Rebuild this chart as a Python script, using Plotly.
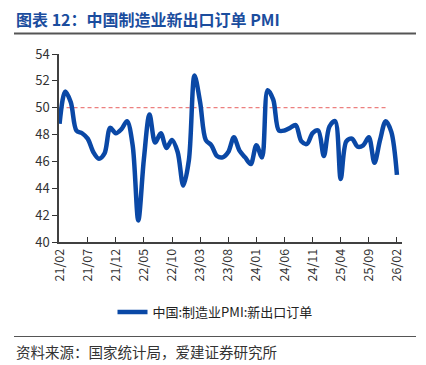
import plotly.graph_objects as go
import pandas as pd

months = [d.strftime("%y/%m") for d in pd.date_range("2021-02-01", "2026-02-01", freq="MS")]

export_orders = [
    48.8, 51.2, 50.4, 48.3, 48.1, 47.7, 46.7, 46.2, 46.6, 48.5, 48.1,   # 2021 Feb-Dec
    48.4, 49.0, 47.2, 41.6, 46.2, 49.5, 47.4, 48.1, 47.0, 47.6, 46.7, 44.2,  # 2022
    46.1, 52.4, 50.4, 47.6, 47.2, 46.4, 46.3, 46.7, 47.8, 46.8, 46.3, 45.8,  # 2023
    47.2, 46.3, 51.3, 50.6, 48.3, 48.3, 48.5, 48.7, 47.5, 47.3, 48.1, 48.3,  # 2024
    46.4, 48.6, 49.0, 44.7, 47.5, 47.7, 47.1, 47.2, 47.8, 45.9, 47.6, 49.0,  # 2025
    48.2, 45.0,  # 2026
]

threshold_months = months[:59]
threshold = [50] * len(threshold_months)

tick_labels = months[::5]

series_name = "中国:制造业PMI:新出口订单"
title_text = "图表 12：中国制造业新出口订单 PMI"
source_text = "资料来源：国家统计局，爱建证券研究所"

W, H = 426, 365
ml, mr, mt, mb = 59, 24, 54, 123
pw = W - ml - mr
ph = H - mt - mb

def px_x(x):
    return (x - ml) / pw

def px_y(y):
    return (H - mb - y) / ph

font_cn = "Noto Sans CJK SC, Microsoft YaHei, sans-serif"

fig = go.Figure()
fig.add_trace(go.Scatter(
    x=threshold_months, y=threshold, mode="lines",
    line=dict(color="#E8605F", width=1, dash="4px,3px"),
    showlegend=False, hoverinfo="skip",
))
fig.add_trace(go.Scatter(
    x=months, y=export_orders, mode="lines", name=series_name,
    line=dict(color="#0A48A6", width=4.5, shape="spline", smoothing=0.9),
))

fig.update_layout(
    width=W, height=H,
    margin=dict(l=ml, r=mr, t=mt, b=mb),
    paper_bgcolor="white", plot_bgcolor="white",
    font=dict(family=font_cn, size=12, color="#333333"),
    showlegend=True,
    legend=dict(
        orientation="h", x=px_x(215), xanchor="center", y=px_y(312), yanchor="middle",
        font=dict(size=13, color="#222222"), bgcolor="rgba(0,0,0,0)",
    ),
    xaxis=dict(
        type="category", categoryorder="array", categoryarray=months,
        range=[-0.1, 60.9],
        tickmode="array", tickvals=tick_labels, ticktext=tick_labels,
        tickangle=-90, ticks="inside", ticklen=5, tickcolor="#333333",
        showline=True, linecolor="#404040", linewidth=1.5,
        showgrid=False, zeroline=False,
        tickfont=dict(size=12.5, color="#333333"),
    ),
    yaxis=dict(
        range=[40, 54], dtick=2, tick0=40,
        ticks="outside", ticklen=5, tickcolor="#333333",
        showline=True, linecolor="#404040", linewidth=1.5,
        showgrid=False, zeroline=False,
        tickfont=dict(size=13, color="#333333"),
    ),
    shapes=[
        dict(type="line", xref="paper", yref="paper",
             x0=px_x(14), x1=px_x(416), y0=px_y(33.5), y1=px_y(33.5),
             line=dict(color="#555555", width=2)),
        dict(type="line", xref="paper", yref="paper",
             x0=px_x(14), x1=px_x(416), y0=px_y(336.5), y1=px_y(336.5),
             line=dict(color="#555555", width=1)),
    ],
    annotations=[
        dict(text="<b>" + title_text + "</b>", xref="paper", yref="paper",
             x=px_x(14), y=px_y(19), xanchor="left", yanchor="middle",
             showarrow=False, font=dict(size=16, color="#1B4D9E", family=font_cn)),
        dict(text=source_text, xref="paper", yref="paper",
             x=px_x(14), y=px_y(351), xanchor="left", yanchor="middle",
             showarrow=False, font=dict(size=14.5, color="#333333", family=font_cn)),
    ],
)

fig.write_html(
    "out.html",
    config={"displayModeBar": False},
    post_script="document.body.style.margin='0';document.body.style.padding='0';",
)
